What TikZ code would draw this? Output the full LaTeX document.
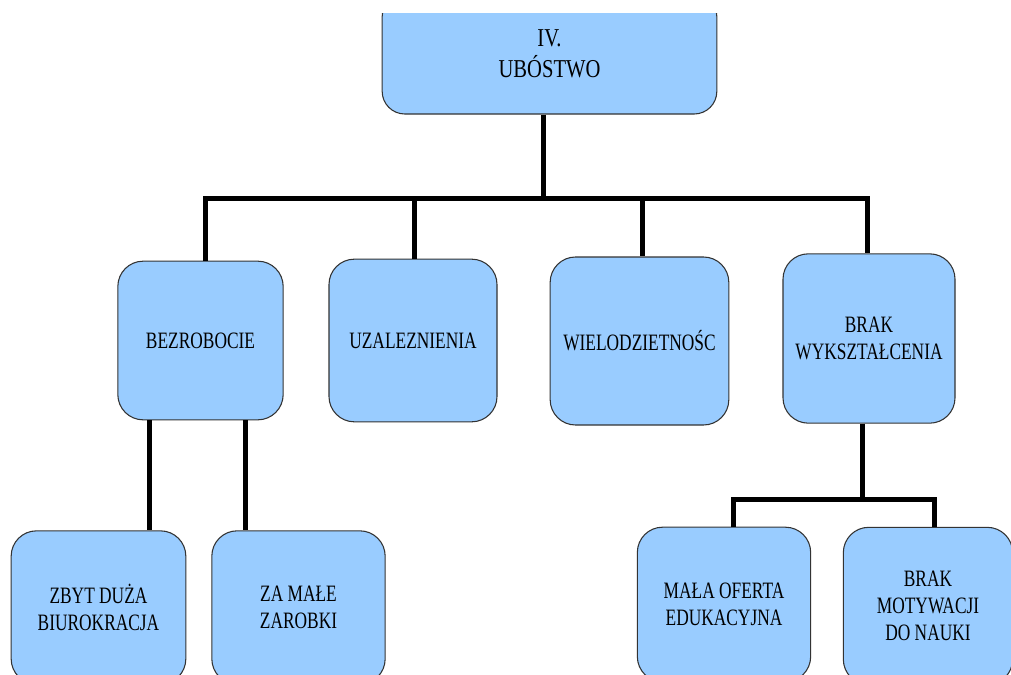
\documentclass[tikz,border=0pt]{standalone}
\usepackage{fontspec}
\setmainfont{Liberation Serif}[FakeStretch=0.74]
\newfontfamily\topfont{Liberation Serif}[FakeStretch=0.8]

\begin{document}
\begin{tikzpicture}[x=0.75pt,y=-0.75pt,
	box/.style={draw=black!80,line width=0.8pt,fill={rgb,255:red,153;green,204;blue,255},
		rounded corners=19pt,align=center,inner sep=0pt,
		font=\fontsize{17.6}{20}\selectfont},
	link/.style={line width=3.75pt,line join=miter}]

	\useasboundingbox (0,0) rectangle (1011,675);
	\clip (0,13) rectangle (1011,675);

	% top
	\node[box,minimum width=251pt,minimum height=90pt,rounded corners=17pt,
		font=\topfont\fontsize{19.3}{23}\selectfont] (ubostwo) at (549.5,54) {IV.\\UBÓSTWO};

	% middle
	\node[box,minimum width=124pt,minimum height=119pt] (bezrobocie) at (200.5,340.5) {BEZROBOCIE};
	\node[box,minimum width=126pt,minimum height=122pt] (uzaleznienia) at (413,340.5) {UZALEZNIENIA};
	\node[box,minimum width=134pt,minimum height=126pt] (wielodzietnosc) at (639.5,341) {WIELODZIETNOŚC};
	\node[box,minimum width=129pt,minimum height=127pt] (wyksztalcenie) at (869,338.5) {BRAK\\WYKSZTAŁCENIA};

	% bottom
	\node[box,minimum width=131pt,minimum height=115pt] (biurokracja) at (98.5,607.5) {ZBYT DUŻA\\BIUROKRACJA};
	\node[box,minimum width=130pt,minimum height=115pt] (zarobki) at (298.5,607.5) {ZA MAŁE\\ZAROBKI};
	\node[box,minimum width=130pt,minimum height=116pt] (oferta) at (724,604.5) {MAŁA OFERTA\\EDUKACYJNA};
	\node[box,minimum width=127pt,minimum height=118pt] (motywacja) at (928,606) {BRAK\\MOTYWACJI\\DO NAUKI};

	% bus points
	\coordinate (busM) at (543,198);
	\coordinate (busL) at (205,198);
	\coordinate (busU) at (414,198);
	\coordinate (busW) at (642,198);
	\coordinate (busR) at (867,198);
	\coordinate (dropZ) at (149,420);
	\coordinate (dropA) at (245.5,420);
	\coordinate (subM) at (862,499.5);
	\coordinate (subL) at (733.5,499.5);
	\coordinate (subR) at (934.5,499.5);

	% up
	\draw[link] (busM |- ubostwo.south) -- (busM);
	\draw[link] (busL |- bezrobocie.north) -- (busL) -- (busR) -- (busR |- wyksztalcenie.north);
	\draw[link] (busU) -- (busU |- uzaleznienia.north);
	\draw[link] (busW) -- (busW |- wielodzietnosc.north);

	% down
	\draw[link] (dropZ |- bezrobocie.south) -- (dropZ |- biurokracja.north);
	\draw[link] (dropA |- bezrobocie.south) -- (dropA |- zarobki.north);
	\draw[link] (subM |- wyksztalcenie.south) -- (subM);
	\draw[link] (subL |- oferta.north) -- (subL) -- (subR) -- (subR |- motywacja.north);

\end{tikzpicture}
\end{document}
